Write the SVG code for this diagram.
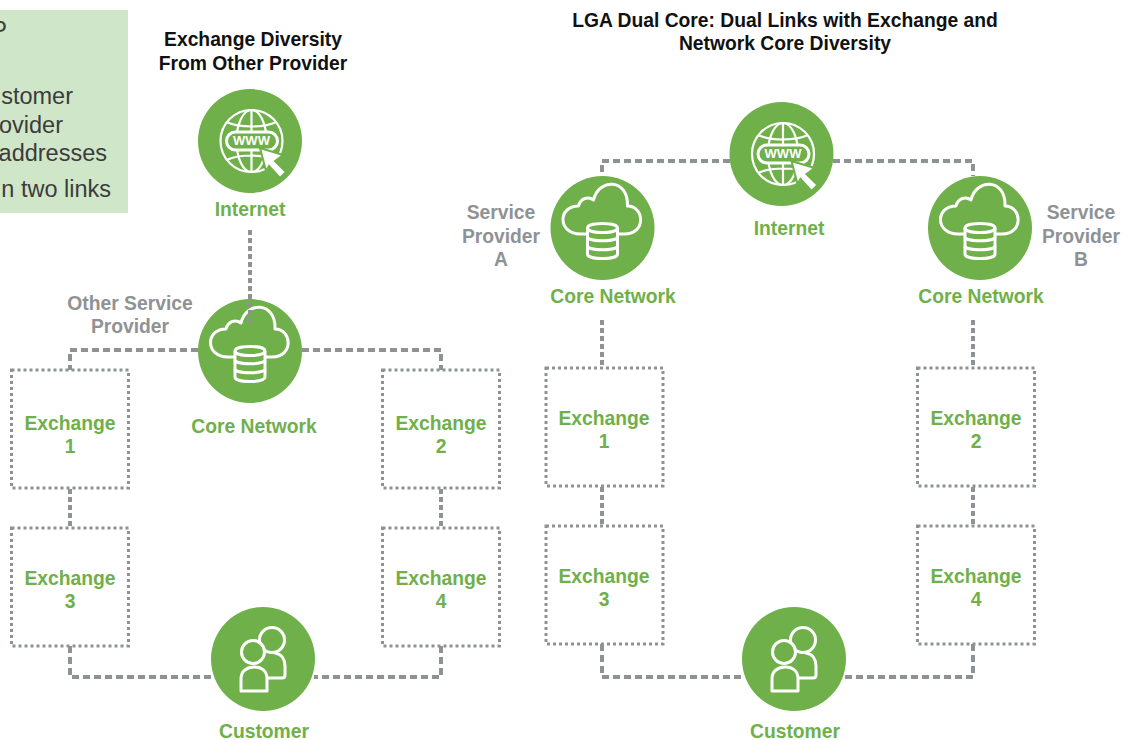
<svg xmlns="http://www.w3.org/2000/svg" xmlns:xlink="http://www.w3.org/1999/xlink" width="1136" height="740" viewBox="0 0 1136 740">
<style>
text{font-family:"Liberation Sans",Arial,sans-serif}
.g{font-weight:bold;font-size:19.3px;fill:#6fb04a;text-anchor:middle}
.s{font-weight:bold;font-size:19.3px;fill:#8f9294;text-anchor:middle}
.t{font-weight:bold;font-size:19.3px;fill:#111;text-anchor:middle}
.n{font-size:23.5px;fill:#3c3c3c;text-anchor:end}
.c{fill:#6fb04a}
.i{fill:none;stroke:#fff;stroke-width:3;stroke-linejoin:round;stroke-linecap:round}
.f{fill:#6fb04a;stroke:#fff;stroke-width:3;stroke-linejoin:round}
.h{fill:none;stroke:#fff;stroke-width:2.2}
.w{font-weight:bold;font-size:13px;fill:#fff;text-anchor:middle}
.d{fill:none;stroke:#8f9294;stroke-width:4;stroke-dasharray:7 4}
.b{fill:none;stroke:#8f9294;stroke-width:3;stroke-dasharray:3 3}
.v{fill:none;stroke:#8f9294;stroke-width:4;stroke-dasharray:5 3}
</style>
<defs>
<g id="globe">
<circle class="c" r="52"/>
<g transform="translate(1.500 0)">
<circle class="h" r="31"/>
<ellipse class="h" rx="15" ry="31"/>
<path class="h" d="M0 -31V31M-25 -19C-12 -13 12 -13 25 -19M-25 19C-12 13 12 13 25 19"/>
<rect class="f" x="-25" y="-9" width="51" height="18" rx="9"/>
</g>
<path d="M10 7L33 14L25 20L36 31L30 37L19 25L16 30Z" fill="#fff" stroke="#6fb04a" stroke-width="2"/>
</g>
<g id="cloud">
<circle class="c" r="52"/>
<path class="i" d="M-16 6H-22C-45 6 -45 -22 -24 -22C-22 -30 -14 -32 -9 -28C-4 -50 26 -50 25 -22C42 -22 44 6 22 6H15"/>
<path class="f" d="M-15 0C-15 -6 15 -6 15 0V26C15 32 -15 32 -15 26Z"/>
<path class="h" style="stroke-width:3" d="M-15 0C-15 6 15 6 15 0M-15 9C-15 14 15 14 15 9M-15 18C-15 23 15 23 15 18"/>
</g>
<g id="people">
<circle class="c" r="52"/>
<circle class="i" cx="9" cy="-19" r="12.500"/>
<path class="i" d="M12 -6C19 -5 22 1 22 7V16C22 18 21 19 19 19H4"/>
<circle class="f" cx="-10" cy="-7" r="11.500"/>
<path class="f" d="M-22 32V20C-22 12 -16 8 -9 8C-1 8 4 12 4 20V32Z"/>
</g>
</defs>

<g id="note">
<rect x="0" y="10" width="128" height="203" fill="#cfe6c8"/>
<text class="n" x="7" y="38">P</text>
<text class="n" x="73" y="104">stomer</text>
<text class="n" x="63" y="133">ovider</text>
<text class="n" x="107" y="161">addresses</text>
<text class="n" x="111" y="197">n two links</text>
</g>

<g id="titles">
<text class="t" x="253" y="46">Exchange Diversity</text>
<text class="t" x="253" y="70">From Other Provider</text>
<text class="t" x="785" y="27">LGA Dual Core: Dual Links with Exchange and</text>
<text class="t" x="785" y="50">Network Core Diversity</text>
</g>

<g id="left-internet"><use xlink:href="#globe" href="#globe" x="250" y="141"/><text class="w" x="251.500" y="145">WWW</text><text class="g" x="250" y="216">Internet</text></g>
<g id="left-core"><use xlink:href="#cloud" href="#cloud" x="250" y="351"/><text class="g" x="254" y="433">Core Network</text><text class="s" x="130" y="310">Other Service</text><text class="s" x="130" y="333">Provider</text></g>
<g id="left-customer"><use xlink:href="#people" href="#people" x="263" y="659"/><text class="g" x="264" y="738">Customer</text></g>

<g id="left-ex1"><rect class="b" x="11.500" y="370" width="117" height="118"/><text class="g" x="70" y="430">Exchange</text><text class="g" x="70" y="453">1</text></g>
<g id="left-ex2"><rect class="b" x="382.500" y="370" width="117" height="118"/><text class="g" x="441" y="430">Exchange</text><text class="g" x="441" y="453">2</text></g>
<g id="left-ex3"><rect class="b" x="11.500" y="528" width="117" height="118"/><text class="g" x="70" y="585">Exchange</text><text class="g" x="70" y="608">3</text></g>
<g id="left-ex4"><rect class="b" x="382.500" y="528" width="117" height="118"/><text class="g" x="441" y="585">Exchange</text><text class="g" x="441" y="608">4</text></g>

<g id="right-internet"><use xlink:href="#globe" href="#globe" x="781.500" y="154"/><text class="w" x="783" y="158">WWW</text><text class="g" x="789" y="235">Internet</text></g>
<g id="core-a"><use xlink:href="#cloud" href="#cloud" x="602.500" y="228"/><text class="g" x="613" y="303">Core Network</text><text class="s" x="501" y="219">Service</text><text class="s" x="501" y="243">Provider</text><text class="s" x="501" y="266">A</text></g>
<g id="core-b"><use xlink:href="#cloud" href="#cloud" x="980" y="228"/><text class="g" x="981" y="303">Core Network</text><text class="s" x="1081" y="219">Service</text><text class="s" x="1081" y="243">Provider</text><text class="s" x="1081" y="266">B</text></g>
<g id="right-customer"><use xlink:href="#people" href="#people" x="794" y="659"/><text class="g" x="795" y="738">Customer</text></g>

<g id="right-ex1"><rect class="b" x="546" y="368" width="117" height="118"/><text class="g" x="604" y="425">Exchange</text><text class="g" x="604" y="448">1</text></g>
<g id="right-ex2"><rect class="b" x="917.500" y="368" width="117" height="118"/><text class="g" x="976" y="425">Exchange</text><text class="g" x="976" y="448">2</text></g>
<g id="right-ex3"><rect class="b" x="546" y="526" width="117" height="118"/><text class="g" x="604" y="583">Exchange</text><text class="g" x="604" y="606">3</text></g>
<g id="right-ex4"><rect class="b" x="917.500" y="526" width="117" height="118"/><text class="g" x="976" y="583">Exchange</text><text class="g" x="976" y="606">4</text></g>

<g id="connectors">
<path class="v" d="M250 230V323"/>
<path class="d" d="M198 350H70V370M302 350H441V370"/>
<path class="v" d="M70 489V527M441 489V527"/>
<path class="d" d="M70 646V677H212M441 646V677H314"/>
<path class="d" d="M730 161H602V176M833 161H973V176"/>
<path class="v" d="M602 320V368M973 320V368"/>
<path class="v" d="M602 487V525M973 487V525"/>
<path class="d" d="M602 644V677H743M973 644V677H845"/>
</g>
</svg>
